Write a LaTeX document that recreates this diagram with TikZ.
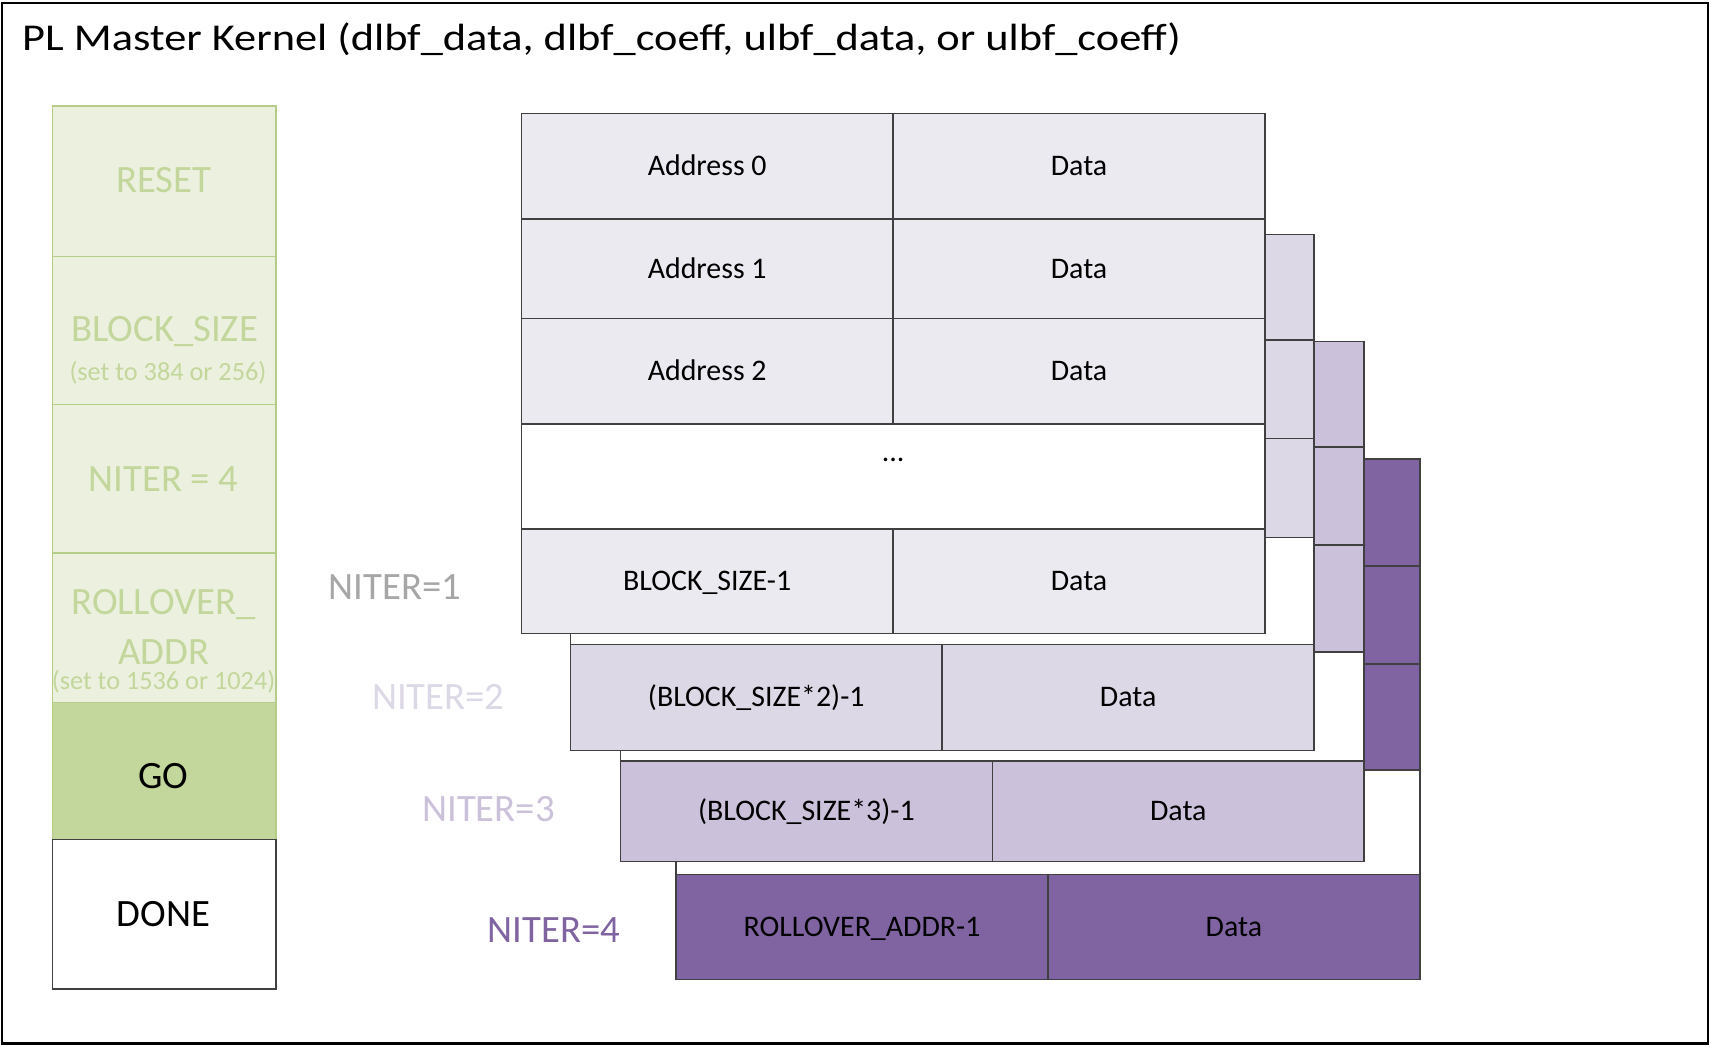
\documentclass[tikz,border=0pt]{standalone}
\usepackage{fontspec}
\setmainfont{Carlito}
\newfontfamily\titlefont[FakeStretch=1.17]{Carlito}
\definecolor{pA}{HTML}{ECEAF1}
\definecolor{pB}{HTML}{DDD8E6}
\definecolor{pC}{HTML}{CCC1DA}
\definecolor{pD}{HTML}{8064A2}
\definecolor{gA}{HTML}{EBF1DE}
\definecolor{gB}{HTML}{C3D69B}
\definecolor{gLine}{HTML}{B5CD88}
\definecolor{cellLine}{HTML}{404040}
\definecolor{grayTxt}{HTML}{A6A6A6}
\begin{document}
\begin{tikzpicture}[x=0.02cm,y=-0.02cm,
  cell/.style={draw=cellLine,line width=0.8pt},
  gcell/.style={draw=gLine,line width=0.8pt,fill=gA},
  celltext/.style={font=\fontsize{15.6}{18}\selectfont,inner sep=0pt,text height=9.86pt,text depth=0pt},
  bigtext/.style={font=\fontsize{20.2}{24}\selectfont,inner sep=0pt,text height=12.77pt,text depth=0pt},
  smalltext/.style={font=\fontsize{13.7}{16}\selectfont,inner sep=0pt,text height=8.66pt,text depth=0pt},
  gtext/.style={text=gB}]
\useasboundingbox (0,0) rectangle (1569,960);
\fill[white] (0,0) rectangle (1569,960);

% memory tables, back to front
\foreach \xl/\xs/\ya/\yb/\yc/\yd/\ye/\yf/\fc in
  {620/961/421/519/609/706/802/898/pD,
   569/910/313/410/500/598/698/790/pC,
   523/864/215/312/402/493/591/688/pB,
   478/819/104/201/292/389/485/581/pA}
{
  \pgfmathsetmacro\xr{\xl+682}
  \draw[cell,fill=\fc] (\xl,\ya) rectangle (\xr,\yb);
  \draw[cell,fill=\fc] (\xl,\yb) rectangle (\xr,\yc);
  \draw[cell,fill=\fc] (\xl,\yc) rectangle (\xr,\yd);
  \draw[cell,fill=white] (\xl,\yd) rectangle (\xr,\ye);
  \draw[cell,fill=\fc] (\xl,\ye) rectangle (\xr,\yf);
  \draw[cell] (\xs,\ya) -- (\xs,\yd);
  \draw[cell] (\xs,\ye) -- (\xs,\yf);
}

% table texts
\node[celltext] (a0) at (648.5,152.5) {Address 0};
\node[celltext] (d0) at (989.5,152.5) {Data};
\node[celltext] (a1) at (648.5,246.5) {Address 1};
\node[celltext] (d1) at (989.5,246.5) {Data};
\node[celltext] (a2) at (648.5,340.5) {Address 2};
\node[celltext] (d2) at (989.5,340.5) {Data};
\node[celltext,anchor=base] (dots) at (819,423) {...};
\node[celltext] (aN1) at (648.5,533) {BLOCK\_SIZE-1};
\node[celltext] (dN1) at (989.5,533) {Data};
\node[celltext] (aN2) at (693.5,639.5) {(BLOCK\_SIZE*2)-1};
\node[celltext] (dN2) at (1034.5,639.5) {Data};
\node[celltext] (aN3) at (739.5,744) {(BLOCK\_SIZE*3)-1};
\node[celltext] (dN3) at (1080.5,744) {Data};
\node[celltext] (aN4) at (790.5,850) {ROLLOVER\_ADDR-1};
\node[celltext] (dN4) at (1131.5,850) {Data};

% NITER labels
\node[bigtext,text=grayTxt] (n1) at (362,538.5) {NITER=1};
\node[bigtext,text=pB] (n2) at (402,639.3) {NITER=2};
\node[bigtext,text=pC] (n3) at (448,741.7) {NITER=3};
\node[bigtext,text=pD] (n4) at (508,853.2) {NITER=4};

% register column
\draw[gcell] (48,97) rectangle (253,235);
\draw[gcell] (48,235) rectangle (253,371);
\draw[gcell] (48,371) rectangle (253,507);
\draw[gcell] (48,507) rectangle (253,644);
\draw[gcell,fill=gB] (48,644) rectangle (253,770);
\draw[cell,fill=white] (48,770) rectangle (253,907);

\node[bigtext,gtext] (reset) at (150,165.4) {RESET};
\node[bigtext,gtext] (bsize) at (151,302) {BLOCK\_SIZE};
\node[smalltext,gtext] (bsizeset) at (154,341) {(set to 384 or 256)};
\node[bigtext,gtext] (niter) at (150,439.8) {NITER = 4};
\node[bigtext,gtext] (roll) at (150,552) {ROLLOVER\_};
\node[bigtext,gtext] (addr) at (150,598) {ADDR};
\node[smalltext,gtext] (rollset) at (150,625) {(set to 1536 or 1024)};
\node[bigtext] (go) at (150,712) {GO};
\node[bigtext] (done) at (150,838) {DONE};

% title and frame
\node[font=\titlefont\fontsize{19.8}{24}\selectfont,inner sep=0pt,anchor=base west] (title) at (20,46.4)
  {PL Master Kernel (dlbf\_data, dlbf\_coeff, ulbf\_data, or ulbf\_coeff)};
\draw[black,line width=1.2pt] (2,2.5) rectangle (1566,957);
\end{tikzpicture}
\end{document}
